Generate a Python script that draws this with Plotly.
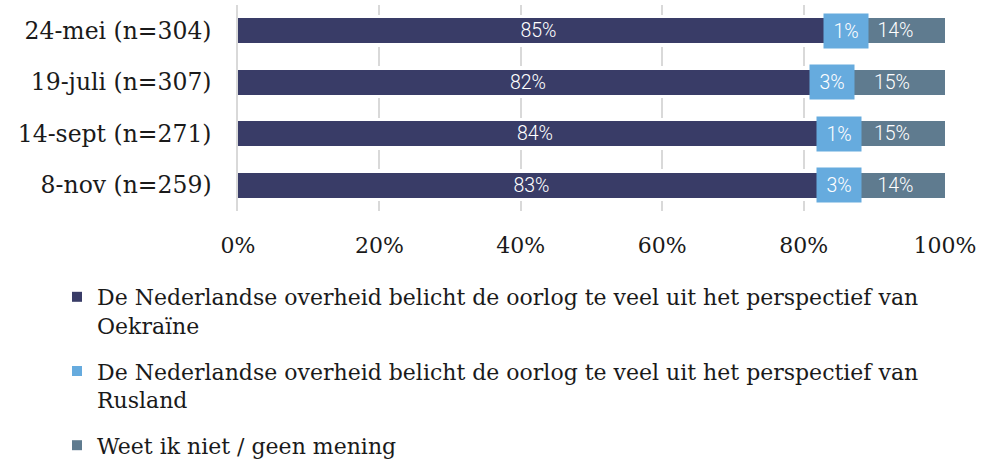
import plotly.graph_objects as go

categories = ["24-mei (n=304)", "19-juli (n=307)", "14-sept (n=271)", "8-nov (n=259)"]
oekraine = [85, 82, 84, 83]
rusland = [1, 3, 1, 3]
weet_niet = [14, 15, 15, 14]
series_names = [
    "De Nederlandse overheid belicht de oorlog te veel uit het perspectief van<br>Oekraïne",
    "De Nederlandse overheid belicht de oorlog te veel uit het perspectief van<br>Rusland",
    "Weet ik niet / geen mening",
]
tick_vals = [0, 20, 40, 60, 80, 100]
tick_text = ["0%", "20%", "40%", "60%", "80%", "100%"]

C_DARK = "#393C67"
C_LIGHT = "#66ABDE"
C_GREY = "#5F7B8F"
SERIF = "DejaVu Serif"
SANS = "Roboto"

fig = go.Figure()

# white backing bars to break gridlines around the bars
fig.add_trace(go.Bar(
    y=categories, x=[102] * len(categories), base=-1, orientation="h",
    marker=dict(color="white", line=dict(width=0)), width=0.63,
    showlegend=False, hoverinfo="skip", yaxis="y", xaxis="x",
))

for vals, col, show_text in [(oekraine, C_DARK, True), (rusland, C_LIGHT, False), (weet_niet, C_GREY, True)]:
    fig.add_trace(go.Bar(
        y=categories, x=vals, orientation="h",
        marker=dict(color=col, line=dict(width=0)), width=0.485,
        text=[f"{v}%" for v in vals] if show_text else None,
        textposition="inside" if show_text else "none",
        insidetextanchor="middle",
        textfont=dict(family=SANS, size=19.5, color="white", weight=300),
        constraintext="none",
        showlegend=False, yaxis="y2", xaxis="x",
    ))

# boxed labels for the small middle segment
for cat, a, b in zip(categories, oekraine, rusland):
    fig.add_annotation(
        x=a + b / 2, y=cat, xref="x", yref="y2", text=f"{b}%", showarrow=False,
        xshift=3.5,
        font=dict(family=SANS, size=19.5, color="white", weight=300),
        bgcolor=C_LIGHT, width=44, height=34, borderpad=0, align="center", valign="middle",
    )

# legend entries
for i, (name, col) in enumerate(zip(series_names, [C_DARK, C_LIGHT, C_GREY])):
    fig.add_trace(go.Scatter(
        x=[None], y=[None], mode="markers", name=name,
        marker=dict(symbol="square", size=10, color=col),
        legendgroup=f"g{i}", showlegend=True, xaxis="x", yaxis="y2",
    ))

fig.update_layout(
    width=1006, height=459,
    margin=dict(l=238, r=61, t=5, b=248, autoexpand=False),
    paper_bgcolor="white", plot_bgcolor="white",
    barmode="stack", bargap=0,
    hovermode=False,
    xaxis=dict(
        range=[0, 100], tickvals=tick_vals, ticktext=tick_text,
        showgrid=True, gridcolor="#D9D9D9", gridwidth=1.5,
        zeroline=False, showline=False, ticks="",
        tickfont=dict(family=SERIF, size=22, color="#1a1a1a"),
        ticklabelstandoff=19, fixedrange=True,
    ),
    yaxis=dict(
        categoryorder="array", categoryarray=categories[::-1],
        showgrid=False, zeroline=False, showline=True, linecolor="#D9D9D9", linewidth=1.5,
        ticks="", tickfont=dict(family=SERIF, size=23.5, color="#1a1a1a"),
        ticklabelstandoff=20, range=[-0.5, 3.5], fixedrange=True,
    ),
    yaxis2=dict(
        overlaying="y", matches="y", visible=False,
        categoryorder="array", categoryarray=categories[::-1],
    ),
    showlegend=True,
    legend=dict(
        xref="container", yref="container", x=57 / 1006, y=1 - 276 / 459,
        xanchor="left", yanchor="top", orientation="v", valign="top",
        font=dict(family=SERIF, size=22, color="#1a1a1a"),
        tracegroupgap=14, itemwidth=30, bgcolor="rgba(0,0,0,0)",
        itemclick=False, itemdoubleclick=False,
    ),
)

fig.write_html(
    "out.html",
    config={"displayModeBar": False},
    post_script="document.body.style.margin='0';document.body.style.padding='0';",
)
